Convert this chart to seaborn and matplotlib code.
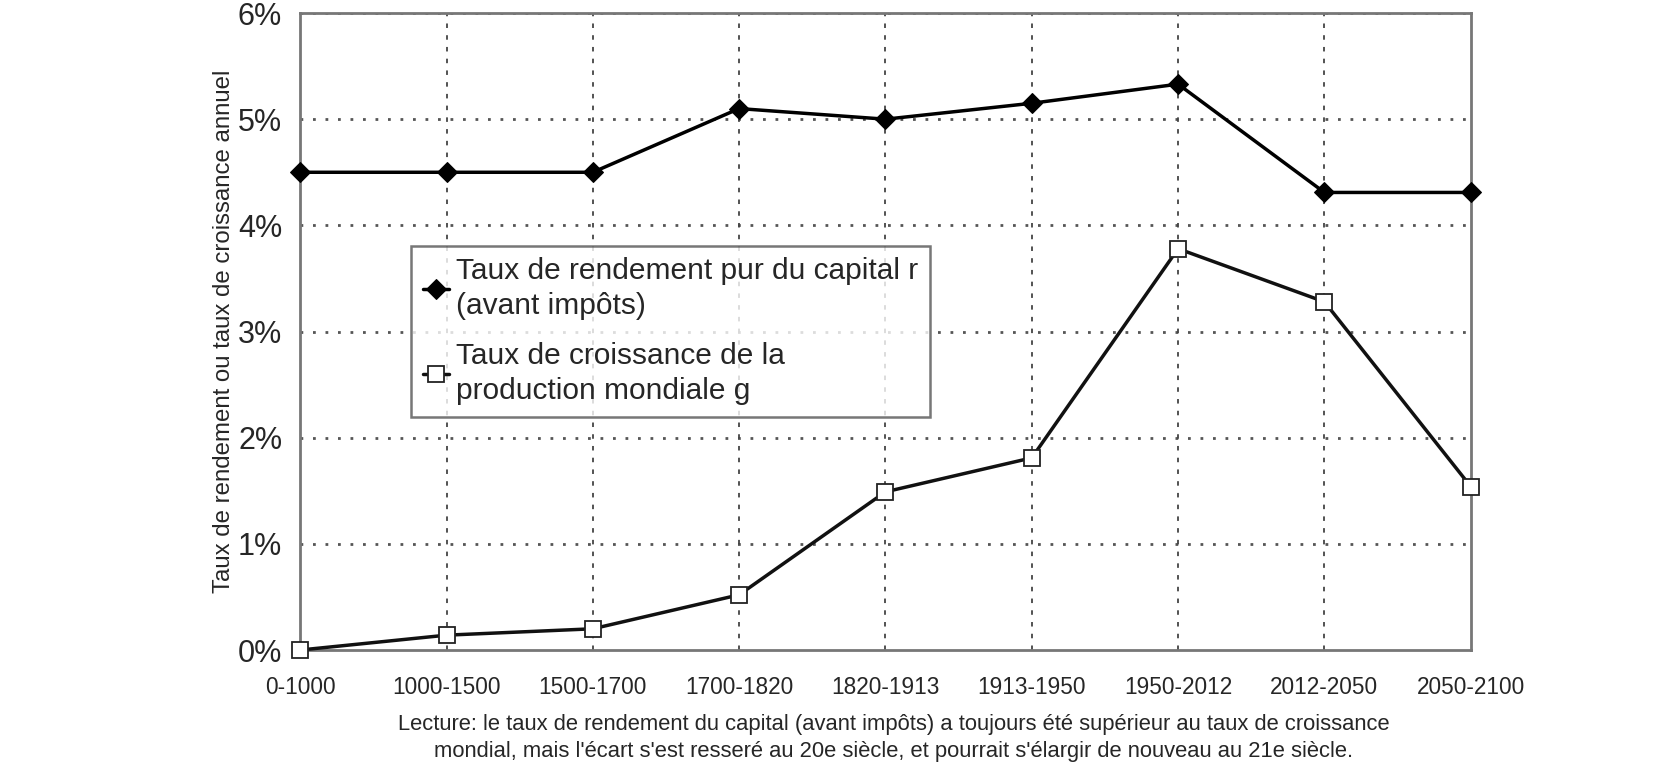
import pandas as pd
import numpy as np
import matplotlib.pyplot as plt
import seaborn as sns

periods = ["0-1000", "1000-1500", "1500-1700", "1700-1820", "1820-1913",
           "1913-1950", "1950-2012", "2012-2050", "2050-2100"]
r_capital = [4.5, 4.5, 4.5, 5.1, 5.0, 5.15, 5.33, 4.31, 4.31]
g_growth = [0.0, 0.14, 0.2, 0.52, 1.49, 1.81, 3.78, 3.28, 1.54]
y_ticks = [0, 1, 2, 3, 4, 5, 6]

label_r = "Taux de rendement pur du capital r\n(avant impôts)"
label_g = "Taux de croissance de la\nproduction mondiale g"
y_label = "Taux de rendement ou taux de croissance annuel"
note = ("Lecture: le taux de rendement du capital (avant impôts) a toujours été supérieur au taux de croissance\n"
        "mondial, mais l'écart s'est resseré au 20e siècle, et pourrait s'élargir de nouveau au 21e siècle.")

sns.set_style("white")
plt.rcParams["font.family"] = ["Liberation Sans", "DejaVu Sans"]

df = pd.DataFrame({"period": periods, "pos": np.arange(len(periods)),
                   "r": r_capital, "g": g_growth})

fig = plt.figure(figsize=(16.77, 7.66), dpi=100)
ax = fig.add_axes([0.179, 0.1514, 0.698, 0.8316])

# grid first so lines sit on top
for yv in y_ticks[1:]:
    ax.axhline(yv, color="#555555", lw=2, ls=(0, (1, 3.5)), zorder=1)
for xv in df["pos"][1:-1]:
    ax.axvline(xv, color="#444444", lw=1.3, ls=(0, (2.5, 4)), zorder=1)

sns.lineplot(data=df, x="pos", y="r", ax=ax, color="black", lw=2.5,
             marker="D", markersize=10.5, markerfacecolor="black",
             markeredgecolor="black", label=label_r, zorder=3, clip_on=False)
sns.lineplot(data=df, x="pos", y="g", ax=ax, color="#111111", lw=2.5,
             marker="s", markersize=11.5, markerfacecolor="white",
             markeredgecolor="#222222", markeredgewidth=1.3,
             label=label_g, zorder=3, clip_on=False)

ax.set_xlim(0, len(periods) - 1)
ax.set_ylim(0, 6)
ax.set_xticks(df["pos"])
ax.set_xticklabels(periods, fontsize=16.3)
ax.set_yticks(y_ticks)
ax.set_yticklabels([f"{v}%" for v in y_ticks], fontsize=22)
ax.tick_params(axis="x", pad=19, length=0)
ax.tick_params(axis="y", pad=13, length=0)
ax.set_xlabel("")
ax.set_ylabel(y_label, fontsize=17.3, labelpad=2)

for s in ax.spines.values():
    s.set_color("#777777")
    s.set_linewidth(2)

leg = ax.legend(loc="upper left", bbox_to_anchor=(0.095, 0.635), fontsize=21.5,
                frameon=True, fancybox=False, handlelength=0.85,
                handletextpad=0.25, labelspacing=0.75, borderpad=0.4,
                borderaxespad=0)
for t in leg.get_texts():
    t.set_linespacing(1.3)
leg.get_frame().set_edgecolor("#555555")
leg.get_frame().set_linewidth(1.8)
leg.set_zorder(5)

fig.text(0.533, 0.068, note, ha="center", va="top", fontsize=15.8,
         linespacing=1.4)

fig.savefig("out.png", dpi=100)
